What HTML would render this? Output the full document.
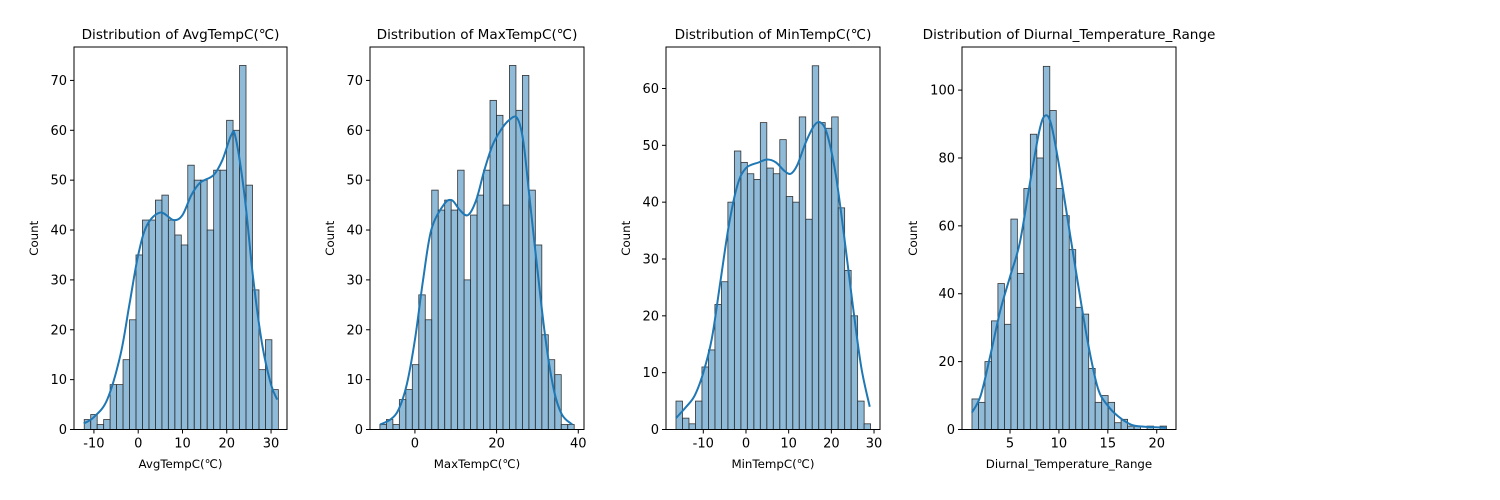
<!DOCTYPE html>
<html><head><meta charset="utf-8"><style>
body{margin:0;background:#fff;}
svg{display:block;font-family:"DejaVu Sans","Liberation Sans",sans-serif;}
</style></head><body>
<svg id="fig" width="1500" height="500" xmlns="http://www.w3.org/2000/svg"></svg>
<script>
// ---- data ----
const avgCounts = [2,3,1,2,9,9,14,22,35,42,42,46,47,42,39,37,53,50,50,40,52,52,62,60,73,49,28,12,18,8];
const avgRange = [-12.19, 31.65];
const avgKdeX = [-12.3,-10,-7,-4,-2,0,2,5,8,10,12,14,17,19,21,22,24,26,28,30,31.4];
const avgKdeY = [1.2,2.5,6,15,25,35,41,43.5,42,43,47,49.5,51,54,59,58.5,47,30,17,9,6];
const avgXTicks = [-10,0,10,20,30];
const avgYTicks = [0,10,20,30,40,50,60,70];

const maxCounts = [1,2,1,6,8,13,27,22,48,44,46,44,52,30,43,47,52,66,63,45,73,64,71,48,37,19,14,11,1,1];
const maxRange = [-8.57, 39.0];
const maxKdeX = [-8.5,-6,-4,-2,0,2,4,7,9,11,13,15,17,19,21,23,25,26.5,28,30,32,34,36,38.5];
const maxKdeY = [1,2,4,9,18,30,40,45,46,44,43,46,52,57,60,62,62.5,58,47,32,18,8,3,1];
const maxXTicks = [0,20,40];
const maxYTicks = [0,10,20,30,40,50,60,70];

const minCounts = [5,2,1,5,11,14,22,26,40,49,47,45,44,54,46,45,51,41,40,55,37,64,54,53,55,39,28,20,5,1];
const minRange = [-16.4, 29.2];
const minKdeX = [-16.4,-14,-12,-10,-8,-6,-4,-2,0,3,5,7,9,10.5,12,14,16,17.5,19,21,23,25,27,29];
const minKdeY = [2,4,6,10,16,26,36,43,46,47,47.5,47,45.5,45,46.5,50.5,53.5,54,52,45,34,22,11,4];
const minXTicks = [-10,0,10,20,30];
const minYTicks = [0,10,20,30,40,50,60];

const dtrCounts = [9,8,20,32,43,31,62,46,71,87,80,107,94,71,63,53,36,34,18,8,10,8,2,3,1,1,0,1,0,1];
const dtrRange = [1.11, 21.0];
const dtrKdeX = [1.1,2,3,4,5,6,7,8,8.6,9.2,10,11,12,13,14,15,16,17,18,21];
const dtrKdeY = [5,10,22,35,45,55,72,88,92.5,90,78,60,42,25,12,7,4,2,1,0.5];
const dtrXTicks = [5,10,15,20];
const dtrYTicks = [0,20,40,60,80,100];

const NS = "http://www.w3.org/2000/svg";
const svg = document.getElementById('fig');
function mk(tag, attrs, parent){const e=document.createElementNS(NS,tag);for(const k in attrs)e.setAttribute(k,attrs[k]);(parent||svg).appendChild(e);return e;}

function smoothPath(pts){
  let d='M'+pts[0][0].toFixed(2)+','+pts[0][1].toFixed(2);
  for(let i=0;i<pts.length-1;i++){
    const p0=pts[Math.max(0,i-1)],p1=pts[i],p2=pts[i+1],p3=pts[Math.min(pts.length-1,i+2)];
    const c1x=p1[0]+(p2[0]-p0[0])/6,c1y=p1[1]+(p2[1]-p0[1])/6;
    const c2x=p2[0]-(p3[0]-p1[0])/6,c2y=p2[1]-(p3[1]-p1[1])/6;
    d+='C'+c1x.toFixed(2)+','+c1y.toFixed(2)+' '+c2x.toFixed(2)+','+c2y.toFixed(2)+' '+p2[0].toFixed(2)+','+p2[1].toFixed(2);
  }
  return d;
}

function panel(cfg){
  const {left,right,top,bottom,xmin,xmax,ymax,counts,range,kx,ky,xt,yt,title,xlabel,key}=cfg;
  const g=mk('g',{});
  
  
  const X=v=>left+(v-xmin)/(xmax-xmin)*(right-left);
  const Y=v=>bottom-v/ymax*(bottom-top);
  const bw=(range[1]-range[0])/counts.length;
  counts.forEach((c,i)=>{
    const x0=X(range[0]+i*bw), x1=X(range[0]+(i+1)*bw);
    const r=mk('rect',{x:x0,y:Y(c),width:x1-x0,height:bottom-Y(c),fill:'rgba(31,119,180,0.5)',stroke:'#333','stroke-width':0.8},g);
    
    
  });
  const pts=kx.map((v,i)=>[X(v),Y(ky[i])]);
  const p=mk('path',{d:smoothPath(pts),fill:'none',stroke:'#1f77b4','stroke-width':2,'stroke-linejoin':'round'},g);
  
  
  const fr=mk('rect',{x:left,y:top,width:right-left,height:bottom-top,fill:'none',stroke:'#000','stroke-width':1},g);
  
  
  xt.forEach(v=>{
    mk('line',{x1:X(v),x2:X(v),y1:bottom,y2:bottom+4,stroke:'#000'},g);
    const t=mk('text',{x:X(v),y:bottom+18,'text-anchor':'middle','font-size':13,fill:'#000'},g);
    t.textContent=v;
    
    
  });
  yt.forEach(v=>{
    mk('line',{x1:left-4,x2:left,y1:Y(v),y2:Y(v),stroke:'#000'},g);
    const t=mk('text',{x:left-7,y:Y(v)+4.5,'text-anchor':'end','font-size':13,fill:'#000'},g);
    t.textContent=v;
    
    
  });
  const tt=mk('text',{x:(left+right)/2,y:39,'text-anchor':'middle','font-size':13.6,fill:'#000'},g);
  tt.textContent=title;
  
  
  const xl=mk('text',{x:(left+right)/2,y:468,'text-anchor':'middle','font-size':11.8,fill:'#000'},g);
  xl.textContent=xlabel;
  
  
  const yx=cfg.ylx;
  const yl=mk('text',{x:yx,y:(top+bottom)/2,'text-anchor':'middle','font-size':11.8,fill:'#000',transform:'rotate(-90 '+yx+' '+(top+bottom)/2+')'},g);
  yl.textContent='Count';
  
  
}

panel({key:'avg',left:74,right:287,top:47,bottom:429.5,xmin:-14.5,xmax:33.6,ymax:76.7,counts:avgCounts,range:avgRange,kx:avgKdeX,ky:avgKdeY,xt:avgXTicks,yt:avgYTicks,title:'Distribution of AvgTempC(℃)',xlabel:'AvgTempC(℃)',ylx:38});
panel({key:'max',left:370,right:584,top:47,bottom:429.5,xmin:-11.0,xmax:41.4,ymax:76.7,counts:maxCounts,range:maxRange,kx:maxKdeX,ky:maxKdeY,xt:maxXTicks,yt:maxYTicks,title:'Distribution of MaxTempC(℃)',xlabel:'MaxTempC(℃)',ylx:334});
panel({key:'min',left:666,right:880,top:47,bottom:429.5,xmin:-18.74,xmax:31.4,ymax:67.3,counts:minCounts,range:minRange,kx:minKdeX,ky:minKdeY,xt:minXTicks,yt:minYTicks,title:'Distribution of MinTempC(℃)',xlabel:'MinTempC(℃)',ylx:630});
panel({key:'dtr',left:962,right:1176,top:47,bottom:429.5,xmin:0.09,xmax:21.97,ymax:112.7,counts:dtrCounts,range:dtrRange,kx:dtrKdeX,ky:dtrKdeY,xt:dtrXTicks,yt:dtrYTicks,title:'Distribution of Diurnal_Temperature_Range',xlabel:'Diurnal_Temperature_Range',ylx:917});
</script>
</body></html>
